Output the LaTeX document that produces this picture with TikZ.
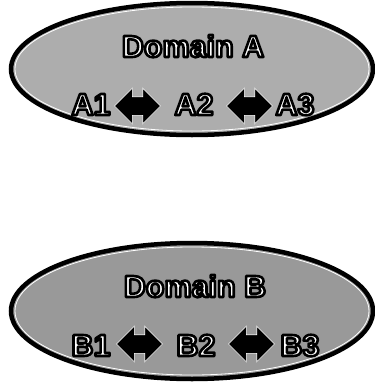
\documentclass[tikz,border=0pt]{standalone}
\usepackage{fontspec}
\setmainfont{Liberation Sans}
\usetikzlibrary{shapes.geometric,shapes.arrows}
\definecolor{fillA}{gray}{0.68}
\definecolor{fillB}{gray}{0.60}
\tikzset{
  domainoval/.style={ellipse, draw=black, line width=4.5pt, minimum width=362pt, minimum height=132pt, inner sep=0pt},
  domaininner/.style={ellipse, draw=white, line width=0.8pt, minimum width=354pt, minimum height=124pt, inner sep=0pt},
  lbl/.style={anchor=base, inner sep=0pt, font=\fontsize{30.5}{34}\selectfont\bfseries},
  dblarrow/.style={shape=double arrow, fill=black, draw=white, line width=0.6pt, inner xsep=0pt, inner ysep=9pt, double arrow head extend=8.5pt, minimum height=46pt}
}
\newcommand{\olt}[1]{\special{pdf:code q 2 Tr 2.6 w 1 j 0 G 1 g}#1\special{pdf:code Q}}
\begin{document}
\begin{tikzpicture}[x=1pt,y=-1pt]
\useasboundingbox (0,0) rectangle (375,386);
% Domain A
\node[domainoval, fill=fillA] (ellA) at (192,69) {};
\node[domaininner] (ellAin) at (192,69) {};
\node[lbl] (titleA) at (193,57) {\olt{Domain A}};
\node[lbl] (a1) at (91,115) {\olt{A1}};
\node[lbl] (a2) at (194,115) {\olt{A2}};
\node[lbl] (a3) at (295,115) {\olt{A3}};
\node[dblarrow] (arA1) at (137.5,106) {};
\node[dblarrow] (arA2) at (249.5,106) {};
% Domain B
\node[domainoval, fill=fillB, minimum height=136pt] (ellB) at (192,311) {};
\node[domaininner, minimum height=128pt] (ellBin) at (192,311) {};
\node[lbl] (titleB) at (195,297) {\olt{Domain B}};
\node[lbl] (b1) at (91,356) {\olt{B1}};
\node[lbl] (b2) at (196,356) {\olt{B2}};
\node[lbl] (b3) at (300,356) {\olt{B3}};
\node[dblarrow] (arB1) at (139.5,344) {};
\node[dblarrow] (arB2) at (251.5,344) {};
\end{tikzpicture}
\end{document}
